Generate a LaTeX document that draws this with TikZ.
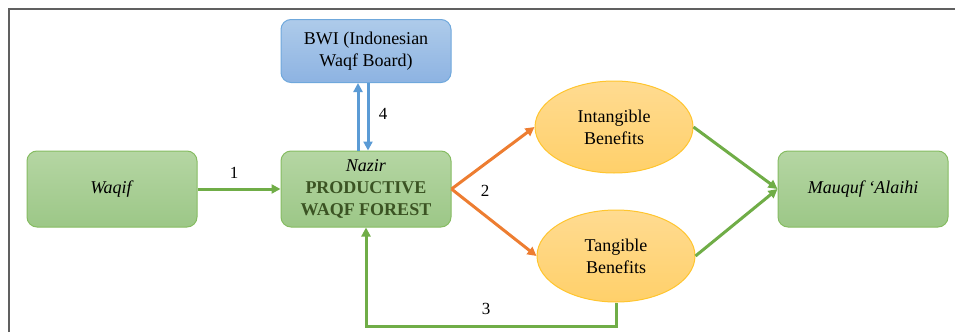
\documentclass[tikz,border=0pt]{standalone}
\usepackage{fontspec}
\setmainfont{Liberation Serif}
\usetikzlibrary{arrows.meta,shapes.geometric}
\definecolor{gfillT}{HTML}{B5D6A3}
\definecolor{gfillB}{HTML}{9CC787}
\definecolor{gdraw}{HTML}{86BC62}
\definecolor{bfillT}{HTML}{AECBEA}
\definecolor{bfillB}{HTML}{8DB3E2}
\definecolor{bdraw}{HTML}{6FA8DC}
\definecolor{yfillT}{HTML}{FFDB91}
\definecolor{yfillB}{HTML}{FFD06A}
\definecolor{ydraw}{HTML}{FFC52E}
\definecolor{garrow}{HTML}{70AD47}
\definecolor{oarrow}{HTML}{ED7D31}
\definecolor{barrow}{HTML}{5B9BD5}
\definecolor{dgreen}{HTML}{3B5323}
\definecolor{framegray}{HTML}{606060}
\begin{document}
\begin{tikzpicture}[x=1pt,y=-1pt,
  txt/.style={font=\fontsize{18}{22}\selectfont, align=center, inner sep=0pt},
  gbox/.style={txt, draw=gdraw, line width=1pt, rounded corners=10pt, top color=gfillT, bottom color=gfillB, minimum width=170pt, minimum height=76pt},
  bbox/.style={txt, draw=bdraw, line width=1pt, rounded corners=10pt, top color=bfillT, bottom color=bfillB, minimum width=170pt, minimum height=63pt},
  ybox/.style={txt, ellipse, draw=ydraw, line width=1pt, top color=yfillT, bottom color=yfillB, minimum width=158pt, minimum height=92pt},
  tip/.style={-{Triangle[length=9pt,width=9pt]}},
  garr/.style={tip, draw=garrow, line width=3pt},
  oarr/.style={tip, draw=oarrow, line width=3pt},
  barr/.style={tip, draw=barrow, line width=3pt},
  lbl/.style={font=\fontsize{17}{20}\selectfont, inner sep=0pt}]
\useasboundingbox (0,0) rectangle (955,332);
\draw[framegray, line width=2pt] (9,332) -- (9,9) -- (955,9);
\node[gbox] (waqif) at (112,189) {\textit{Waqif}};
\node[gbox] (nazir) at (366,189) {\textit{Nazir}\\{\color{dgreen}\textbf{PRODUCTIVE}}\\{\color{dgreen}\textbf{WAQF FOREST}}};
\node[bbox] (bwi) at (366,51) {BWI (Indonesian\\Waqf Board)};
\node[ybox] (intang) at (614,127) {Intangible\\Benefits};
\node[ybox] (tang) at (616,256) {Tangible\\Benefits};
\node[gbox] (mauquf) at (863,189) {\textit{Mauquf ‘Alaihi}};
\coordinate (loopy) at (366,326);
\draw[garr] (waqif) -- (nazir);
\draw[barr] ([xshift=-8pt]nazir.north) -- ([xshift=-8pt]bwi.south);
\draw[barr] ([xshift=2pt]bwi.south) -- ([xshift=2pt]nazir.north);
\draw[oarr] (nazir.east) -- (intang.west);
\draw[oarr] (nazir.east) -- (tang.west);
\draw[garr] (intang.east) -- (mauquf.west);
\draw[garr] (tang.east) -- (mauquf.west);
\draw[garr] (tang.south) |- (loopy) -- (nazir.south);
\node[lbl] (l1) at (234,173) {1};
\node[lbl] (l2) at (485,191) {2};
\node[lbl] (l3) at (486,309) {3};
\node[lbl] (l4) at (383,114) {4};
\end{tikzpicture}
\end{document}
